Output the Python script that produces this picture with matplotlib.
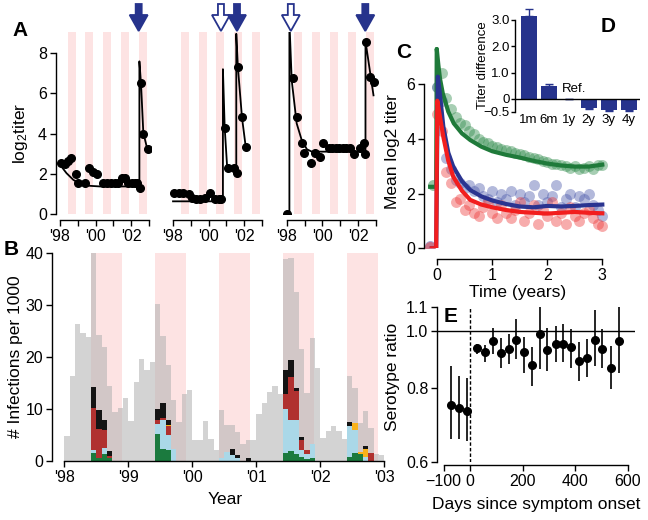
import numpy as np
import matplotlib; matplotlib.use('Agg')
import matplotlib.pyplot as plt
from matplotlib.patches import Polygon

plt.rcParams['font.family'] = ['Liberation Sans', 'DejaVu Sans']
plt.rcParams['mathtext.fontset'] = 'custom'
plt.rcParams['mathtext.rm'] = 'Liberation Sans'
plt.rcParams['mathtext.default'] = 'regular'
plt.rcParams['axes.linewidth'] = 1.0

# ---------------- data ----------------
# panel A: individual titers (years since Jan '98)
A1_PTS_X = [0.04, 0.30, 0.47, 0.62, 0.88, 1.01, 1.40, 1.61, 1.84, 2.06, 2.43, 2.65, 2.86, 3.07, 3.28,
            3.46, 3.65, 3.82, 4.03, 4.21, 4.34, 4.49, 4.53, 4.68, 4.93]
A1_PTS_Y = [2.52, 2.5, 2.62, 2.8, 2.0, 1.55, 1.55, 2.3, 2.1, 2.0, 1.55, 1.55, 1.55, 1.55, 1.55,
            1.8, 1.8, 1.55, 1.55, 1.55, 1.55, 1.28, 6.5, 4.0, 3.25]
A1_FIT_X = [0.04, 0.37, 0.75, 1.12, 1.69, 2.25, 4.46, 4.46, 4.55, 4.68, 4.87, 4.93]
A1_FIT_Y = [2.41, 2.03, 1.7, 1.5, 1.4, 1.37, 1.37, 7.59, 6.49, 4.04, 3.35, 3.23]

A2_PTS_X = [0.04, 0.32, 0.56, 0.88, 1.07, 1.31, 1.53, 1.78, 2.06, 2.37, 2.56, 2.69,
            2.90, 3.08, 3.44, 3.59, 3.64, 3.87, 4.09]
A2_PTS_Y = [1.04, 1.04, 1.04, 1.0, 0.78, 0.74, 0.74, 0.78, 1.04, 0.74, 0.74, 0.74,
            4.3, 2.28, 2.28, 2.03, 7.3, 4.8, 3.35]
A2_FIT_X = [0.0, 2.80, 2.80, 2.90, 3.03, 3.16, 3.55, 3.55, 3.64, 3.87, 4.09]
A2_FIT_Y = [0.63, 0.63, 7.2, 4.29, 2.44, 2.28, 2.28, 8.96, 7.31, 4.8, 3.27]

A3_PTS_X = [0.0, 0.34, 0.56, 0.84, 0.97, 1.35, 1.56, 1.84, 2.03, 2.35, 2.55, 2.75, 2.95, 3.15,
            3.35, 3.55, 3.8, 4.1, 4.32, 4.4, 4.47, 4.65, 4.87]
A3_PTS_Y = [0.0, 6.78, 4.8, 3.55, 3.05, 2.52, 3.05, 2.85, 3.55, 3.27, 3.27, 3.27, 3.27, 3.27,
            3.27, 3.27, 2.99, 3.27, 3.55, 2.99, 8.55, 6.8, 6.57]
A3_FIT_X = [0.0, 0.15, 0.15, 0.28, 0.56, 0.84, 1.13, 1.41, 4.42, 4.42, 4.87]
A3_FIT_Y = [0.0, 0.0, 9.6, 6.65, 4.5, 3.68, 3.22, 3.1, 3.1, 8.6, 5.9]

ARROWS = [(0, 4.42, True), (1, 2.69, False), (1, 3.59, True), (2, 0.23, False), (2, 4.41, True)]

# panel B: monthly infections per 1000, Jan '98 .. Dec '02
TOTAL = [4.8, 16.3, 26.4, 24.7, 23.8, 40.0, 24.2, 22.0, 14.4, 9.3, 10.1, 12.0,
         7.7, 15.2, 19.6, 17.4, 19.1, 30.2, 24.0, 18.5, 11.7, 7.5, 12.9, 13.6,
         4.0, 4.0, 7.7, 4.2, 2.1, 9.8, 6.9, 6.9, 5.5, 3.2, 4.0, 4.0,
         9.1, 11.1, 13.3, 14.4, 12.9, 38.9, 39.0, 32.5, 21.5, 13.0, 23.6, 17.8,
         4.3, 5.7, 6.6, 5.7, 4.2, 16.3, 14.1, 7.3, 9.5, 6.4, 1.3, 1.1]
DENV_GREEN = [0, 0, 0, 0, 0, 1.5, 0.5, 1.3, 0.6, 0, 0, 0,
              0, 0, 0, 0, 0, 5.1, 2.2, 2.0, 0, 0, 0, 0,
              0, 0, 0, 0, 0, 0, 0, 0, 0, 0, 0, 0,
              0, 0, 0, 0, 0, 1.4, 1.9, 1.3, 0.8, 0.3, 0.6, 0,
              0, 0, 0, 0, 0, 0.8, 1.4, 1.2, 0, 0, 0, 0]
DENV_LBLUE = [0, 0, 0, 0, 0, 0.5, 0, 1.1, 0, 0, 0, 0,
              0, 0, 0, 0, 0, 2.0, 5.6, 3.0, 2.2, 0, 0, 0,
              0, 0, 0, 0, 0, 0.6, 1.6, 1.1, 0.5, 0, 0, 0,
              0, 0, 0, 0, 0, 8.5, 5.9, 6.5, 1.3, 1.0, 2.7, 0,
              0, 0, 0, 0, 0, 5.9, 4.5, 0, 0.8, 0, 0, 0]
DENV_RED = [0, 0, 0, 0, 0, 8.1, 5.7, 3.5, 0.4, 0, 0, 0,
            0, 0, 0, 0, 0, 0.7, 0.5, 1.6, 0, 0, 0, 0,
            0, 0, 0, 0, 0, 0, 0, 0, 0, 0, 0, 0,
            0, 0, 0, 0, 0, 3.0, 8.3, 5.7, 1.8, 0.8, 0, 0,
            0, 0, 0, 0, 0, 0, 0, 0, 0, 1.4, 0, 0]
DENV_ORANGE = [0, 0, 0, 0, 0, 0, 0, 0, 0, 0, 0, 0,
               0, 0, 0, 0, 0, 0, 0, 0.3, 0, 0, 0, 0,
               0, 0, 0, 0, 0, 0, 0, 0, 0, 0, 0, 0,
               0, 0, 0, 0, 0, 0, 0, 0, 0, 0, 0, 0,
               0, 0, 0, 0, 0, 0, 1.4, 0.4, 1.5, 0, 0, 0]
DENV_BLACK = [0, 0, 0, 0, 0, 4.2, 3.6, 1.9, 0.9, 0, 0, 0,
              0, 0, 0, 0, 0, 2.1, 2.8, 0.9, 0, 0, 0, 0,
              0, 0, 0, 0, 0, 0, 0, 1.2, 0.6, 0, 0.6, 0,
              0, 0, 0, 0, 0, 4.5, 3.3, 0.6, 0.7, 0, 0, 0,
              0, 0, 0, 0, 0, 0.7, 0, 0, 0.5, 0, 0, 0]

# panel C: mean log2 titer, monthly points + fitted curves
C_MONTH = np.arange(37) / 12
C_GREEN_PTS = [5.9, 6.4, 5.5, 5.1, 4.8, 4.6, 4.5, 4.3, 4.2, 4.0, 3.9, 3.85, 3.75, 3.7, 3.65, 3.6, 3.55,
               3.5, 3.45, 3.4, 3.35, 3.3, 3.25, 3.2, 3.15, 3.1, 3.1, 3.05, 3.0, 2.95, 3.0, 2.9, 2.95,
               3.0, 2.9, 3.05, 3.05]
C_BLUE_PTS = [5.9, 5.4, 3.3, 2.9, 2.5, 2.4, 2.2, 2.3, 2.1, 2.2, 1.9, 1.8, 2.1, 1.7, 2.0, 1.8, 2.1,
              1.6, 2.0, 1.7, 1.9, 2.3, 1.6, 2.0, 1.7, 1.9, 2.3, 1.5, 1.8, 2.0, 1.5, 1.9, 1.8, 2.0,
              1.6, 1.4, 1.2]
C_RED_PTS = [4.9, 4.3, 2.8, 2.4, 1.7, 1.8, 1.4, 1.6, 1.3, 1.2, 1.5, 1.7, 1.3, 1.1, 1.6, 1.3, 1.1,
             1.4, 1.7, 1.0, 1.3, 1.6, 0.9, 1.4, 1.2, 1.7, 1.0, 1.3, 0.9, 1.5, 1.2, 1.0, 1.3, 1.4,
             1.1, 0.9, 0.8]
C_PRE = {'green': (-0.08, 2.3), 'blue': (-0.13, 0.08), 'red': (-0.13, 0.05)}
C_GREEN_FIT_T = [-0.13, -0.02, -0.01, 0.02, 0.05, 0.1, 0.2, 0.3, 0.45, 0.6, 0.8, 1.0, 1.25, 1.5,
                 1.75, 2.0, 2.25, 2.5, 2.75, 3.0]
C_GREEN_FIT = [2.25, 2.25, 7.3, 6.7, 6.2, 5.67, 5.0, 4.57, 4.2, 3.96, 3.72, 3.55, 3.42, 3.32, 3.2,
               3.1, 3.03, 2.99, 2.99, 3.06]
C_BLUE_FIT_T = [-0.1, -0.02, 0.01, 0.05, 0.11, 0.2, 0.29, 0.45, 0.6, 0.8, 1.0, 1.25, 1.5, 1.75, 2.0,
                2.25, 2.5, 2.75, 3.0]
C_BLUE_FIT = [0, 0, 6.28, 5.6, 4.45, 3.5, 2.99, 2.45, 2.13, 1.9, 1.75, 1.62, 1.53, 1.5, 1.55, 1.53,
              1.55, 1.58, 1.6]
C_RED_FIT_T = [-0.1, -0.02, 0.0, 0.05, 0.11, 0.2, 0.29, 0.45, 0.6, 0.8, 1.0, 1.25, 1.5, 1.75, 2.0,
               2.25, 2.5, 2.75, 3.0]
C_RED_FIT = [0, 0, 5.4, 4.8, 4.08, 3.2, 2.62, 2.1, 1.77, 1.6, 1.5, 1.4, 1.33, 1.3, 1.27, 1.3, 1.33,
             1.3, 1.28]

# panel D: titer difference vs reference (1y)
D_LABELS = ['1m', '6m', '1y', '2y', '3y', '4y']
D_VALUES = [3.15, 0.49, 0.0, -0.35, -0.42, -0.42]
D_ERR = [0.25, 0.06, 0.0, 0.05, 0.06, 0.05]

# panel E: serotype ratio vs days since onset
E_DAYS = [-73, -42, -13, 25, 56, 86, 116, 147, 176, 205, 234, 266, 294, 325, 354, 382, 413, 443,
          473, 503, 534, 565]
E_RATIO = [0.749, 0.741, 0.733, 0.936, 0.923, 0.964, 0.919, 0.933, 0.968, 0.921, 0.876, 0.99,
           0.931, 0.952, 0.952, 0.939, 0.889, 0.9, 0.968, 0.933, 0.868, 0.964]
E_LO = [0.656, 0.657, 0.653, 0.915, 0.888, 0.915, 0.865, 0.88, 0.897, 0.851, 0.808, 0.863, 0.857,
        0.886, 0.886, 0.868, 0.824, 0.835, 0.874, 0.865, 0.798, 0.851]
E_HI = [0.874, 0.841, 0.833, 0.952, 0.948, 1.013, 0.973, 0.99, 1.05, 0.977, 0.939, 1.098, 1.012,
        1.022, 1.029, 1.009, 0.958, 0.97, 1.084, 1.007, 0.945, 1.098]

PINK = '#fde3e3'; NAVY = '#26338c'
SEROCOL = ['#1b7a3e', '#aad8e8', '#b0312f', '#f9b21b', '#141414']
TICK, LAB = 11.5, 12.5

# ---------------- figure ----------------
W, H = 648, 520
fig = plt.figure(figsize=(W / 100, H / 100), dpi=100)

def px_axes(left, top, right, bottom):
    return fig.add_axes([left / W, 1 - bottom / H, (right - left) / W, (bottom - top) / H])

def txt(x, y, s, **kw):
    fig.text(x / W, 1 - y / H, s, **kw)

def style(ax, size=TICK):
    for s in ['top', 'right']:
        ax.spines[s].set_visible(False)
    ax.tick_params(direction='out', length=4.5, width=1, labelsize=size, pad=2)

# ---------- A ----------
a_axes = []
for k, left in enumerate([56, 169.1, 282.8]):
    ax = px_axes(left, 32, left + 94.8, 214)
    style(ax)
    for yr in range(5):
        ax.axvspan(yr + 0.43, yr + 0.88, color=PINK, lw=0, zorder=0)
    ax.set_xlim(-0.22, 5.1); ax.set_ylim(0, 9.05)
    ax.spines['bottom'].set_position(('outward', 4)); ax.spines['bottom'].set_bounds(0, 5)
    ax.set_xticks(range(6)); ax.set_xticklabels(["'98", '', "'00", '', "'02", ''])
    if k == 0:
        ax.spines['left'].set_bounds(0, 8); ax.set_yticks([0, 2, 4, 6, 8])
    else:
        ax.spines['left'].set_visible(False); ax.set_yticks([])
    ax.patch.set_alpha(0)
    a_axes.append(ax)
for ax, fx, fy, px_, py_ in zip(a_axes, [A1_FIT_X, A2_FIT_X, A3_FIT_X], [A1_FIT_Y, A2_FIT_Y, A3_FIT_Y],
                                [A1_PTS_X, A2_PTS_X, A3_PTS_X], [A1_PTS_Y, A2_PTS_Y, A3_PTS_Y]):
    ax.plot(fx, fy, color='k', lw=1.3, zorder=2)
    ax.plot(px_, py_, 'o', color='k', ms=5.5, zorder=3)

def arrow(xpx, filled):
    pts = [(xpx - 3, 4), (xpx + 3, 4), (xpx + 3, 15), (xpx + 9, 15), (xpx, 31), (xpx - 9, 15), (xpx - 3, 15)]
    pts = [(x / W, 1 - y / H) for x, y in pts]
    fig.patches.append(Polygon(pts, closed=True, transform=fig.transFigure, figure=fig,
                               facecolor=NAVY if filled else 'white', edgecolor=NAVY, lw=1.3))

for k, yr, filled in ARROWS:
    xpx = a_axes[k].transData.transform((yr, 0))[0]
    arrow(xpx, filled)

txt(20, 133, 'log$_2$titer', rotation=90, ha='center', va='center', fontsize=LAB)

# ---------- B ----------
axb = px_axes(52.3, 253.3, 384.4, 460.7)
style(axb)
for yr in range(5):
    axb.axvspan(yr + 0.41, yr + 0.9, color=PINK, lw=0, zorder=0)
mx = np.arange(60) / 12
axb.bar(mx, TOTAL, width=1 / 12, align='edge', color='#b0b0b0', alpha=0.55, lw=0, zorder=1)
bottom = np.zeros(60)
for vals, col in zip([DENV_GREEN, DENV_LBLUE, DENV_RED, DENV_ORANGE, DENV_BLACK], SEROCOL):
    axb.bar(mx, vals, width=1 / 12, bottom=bottom, align='edge', color=col, lw=0, zorder=2)
    bottom += np.array(vals)
axb.set_xlim(-0.19, 5.0); axb.set_ylim(0, 40)
axb.spines['bottom'].set_bounds(0, 5)
axb.set_xticks(range(6)); axb.set_xticklabels(["'98", "'99", "'00", "'01", "'02", "'03"])
axb.set_yticks([0, 10, 20, 30, 40])
txt(225, 500, 'Year', ha='center', va='center', fontsize=LAB)
txt(16, 357, '# Infections per 1000', rotation=90, ha='center', va='center', fontsize=LAB)

# ---------- C ----------
axc = px_axes(424.3, 47.4, 607.8, 248.3)
style(axc)
axc.patch.set_alpha(0)
for pts, col, key in [(C_GREEN_PTS, '#2e8b4a', 'green'), (C_BLUE_PTS, '#4a58aa', 'blue'),
                      (C_RED_PTS, '#ee3b3b', 'red')]:
    axc.scatter(C_MONTH, pts, s=62, color=col, alpha=0.42, lw=0, zorder=1)
    axc.scatter(*C_PRE[key], s=62, color=col, alpha=0.5, lw=0, zorder=1)
axc.plot(C_GREEN_FIT_T, C_GREEN_FIT, color='#1f7a3a', lw=3, zorder=2)
axc.plot(C_BLUE_FIT_T, C_BLUE_FIT, color='#2a3490', lw=3, zorder=3)
axc.plot(C_RED_FIT_T, C_RED_FIT, color='#f21e1e', lw=3, zorder=4)
axc.set_xlim(-0.236, 3.1); axc.set_ylim(0, 7.35)
axc.spines['bottom'].set_position(('outward', 8)); axc.spines['bottom'].set_bounds(0, 3)
axc.spines['left'].set_bounds(0, 6)
axc.set_xticks([0, 1, 2, 3]); axc.set_yticks([0, 2, 4, 6])
txt(518, 293, 'Time (years)', ha='center', va='center', fontsize=LAB)
txt(392, 152, 'Mean log2 titer', rotation=90, ha='center', va='center', fontsize=LAB)

# ---------- D ----------
axd = px_axes(515, 8.1, 640, 112)
style(axd, 9.5)
axd.patch.set_alpha(0)
dx = np.arange(len(D_LABELS))
lo = [e if v < 0 else 0 for v, e in zip(D_VALUES, D_ERR)]
hi = [e if v > 0 else 0 for v, e in zip(D_VALUES, D_ERR)]
axd.bar(dx, D_VALUES, width=0.8, color=NAVY, yerr=[lo, hi], ecolor=NAVY, capsize=3,
        error_kw=dict(elinewidth=1, capthick=1))
axd.axhline(0, color='k', lw=1)
axd.set_xlim(-0.685, 5.565); axd.set_ylim(-0.5, 3.45)
axd.spines['bottom'].set_visible(False); axd.spines['left'].set_bounds(-0.5, 3.0)
axd.set_yticks([-0.5, 0, 1, 2, 3]); axd.set_yticklabels(['\u22120.5', '0', '1.0', '2.0', '3.0'])
axd.set_xticks(dx); axd.set_xticklabels(D_LABELS)
axd.tick_params(axis='x', length=0, pad=1.5)
axd.tick_params(axis='y', length=3, pad=1)
axd.text(1.67, 0.37, 'Ref.', ha='left', va='center', fontsize=9.5)
txt(483, 65, 'Titer difference', rotation=90, ha='center', va='center', fontsize=9.5)

# ---------- E ----------
axe = px_axes(437.3, 306.7, 635, 462.3)
style(axe)
axe.set_yscale('log')
axe.set_xlim(-124.2, 626.7); axe.set_ylim(0.6, 1.1)
axe.axhline(1.0, color='k', lw=1)
axe.axvline(0, color='k', lw=1, ls=(0, (2.5, 1.5)))
axe.vlines(E_DAYS, E_LO, E_HI, color='k', lw=1.2)
axe.plot(E_DAYS, E_RATIO, 'o', color='k', ms=5.5)
axe.spines['bottom'].set_position(('outward', 2)); axe.spines['bottom'].set_bounds(-100, 600)
axe.spines['left'].set_bounds(0.6, 1.1)
axe.yaxis.set_minor_locator(matplotlib.ticker.NullLocator())
axe.set_yticks([0.6, 0.8, 1.0, 1.1]); axe.set_yticklabels(['0.6', '0.8', '1.0', '1.1'])
axe.set_xticks([-100, 0, 200, 400, 600]); axe.set_xticklabels(['\u2212100', '0', '200', '400', '600'])
txt(536, 505, 'Days since symptom onset', ha='center', va='center', fontsize=LAB)
txt(392, 377, 'Serotype ratio', rotation=90, ha='center', va='center', fontsize=LAB)

# panel letters
for lab, x, y in [('A', 20, 30), ('B', 11, 249), ('C', 404, 52), ('D', 608, 26), ('E', 451, 316)]:
    txt(x, y, lab, ha='center', va='center', fontsize=15, fontweight='bold')

fig.savefig('out.png', dpi=100)
